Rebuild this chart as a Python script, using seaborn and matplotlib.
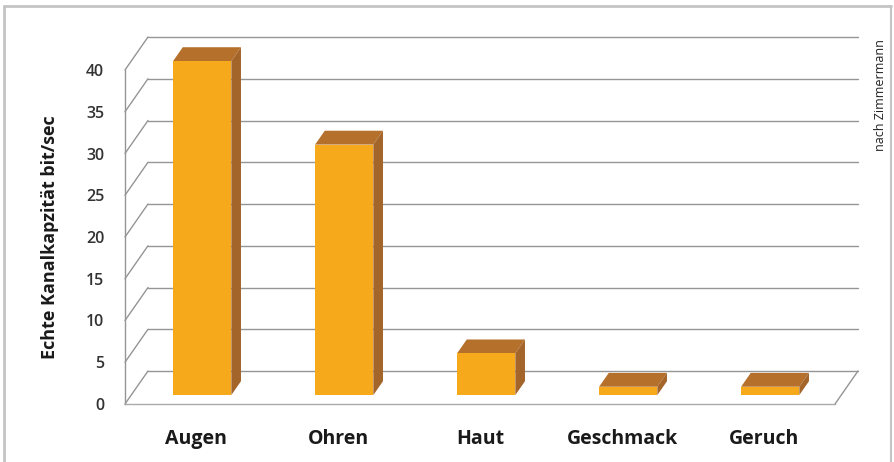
import matplotlib
matplotlib.use("Agg")
import matplotlib.pyplot as plt
import seaborn as sns
import pandas as pd
from matplotlib.patches import Polygon
from matplotlib.lines import Line2D

# ---- data ----
categories = ["Augen", "Ohren", "Haut", "Geschmack", "Geruch"]
values = [40, 30, 5, 1, 1]
yticks = [0, 5, 10, 15, 20, 25, 30, 35, 40]
ylabel = "Echte Kanalkapzität bit/sec"
note = "nach Zimmermann"

sns.set_theme(style="white")
plt.rcParams['font.family'] = ['Open Sans', 'DejaVu Sans']

W, H = 894, 462
fig = plt.figure(figsize=(W / 100, H / 100), dpi=100)
fig.patch.set_facecolor("white")

# pixel geometry of the front plane
x0px, x1px = 125, 835
y0px, y40px = 404, 70
front = [x0px / W, (H - y0px) / H, (x1px - x0px) / W, (y0px - y40px) / H]

# depth offset of the whole box in pixels
DXP, DYP = 23, 33
ppu_x = (x1px - x0px) / 5.0
ppu_y = (y0px - y40px) / 40.0
ddx = DXP / ppu_x          # in category units
ddy = DYP / ppu_y          # in value units

grid_c = "#959595"
floor_c = "#aaaaaa"

ax = fig.add_axes(front)
ax.set_xlim(-0.5, 4.5)
ax.set_ylim(0, 40)
ax.patch.set_alpha(0)
for s in ["top", "right"]:
    ax.spines[s].set_visible(False)
ax.spines["left"].set_color(grid_c)
ax.spines["bottom"].set_color(floor_c)
ax.spines["left"].set_linewidth(1)
ax.spines["bottom"].set_linewidth(1)
ax.set_yticks(yticks)
ax.set_yticklabels([str(t) for t in yticks], fontsize=11.5, fontweight="semibold", color="#333333")
ax.tick_params(axis="y", direction="out", length=4, width=1, color=grid_c, pad=11)
ax.set_xticks(range(len(categories)))
ax.set_xticklabels(categories, fontsize=14, fontweight="bold", color="#1a1a1a")
ax.tick_params(axis="x", length=0, pad=18)
ax.set_xticks([i + 0.5 for i in range(len(categories) - 1)], minor=True)
ax.tick_params(axis="x", which="minor", direction="out", length=3, width=1, color=floor_c)
ax.set_ylabel(ylabel, fontsize=13, fontweight="bold", color="#1a1a1a", labelpad=19)
ax.grid(False)

# back wall gridlines + side wall diagonals
for v in yticks:
    ax.plot([-0.5 + ddx, 4.5 + ddx], [v + ddy, v + ddy], color=grid_c, lw=1, clip_on=False, zorder=0)
    ax.plot([-0.5, -0.5 + ddx], [v, v + ddy], color=grid_c, lw=1, clip_on=False, zorder=0)
ax.plot([4.5, 4.5 + ddx], [0, ddy], color=grid_c, lw=1, clip_on=False, zorder=0)

# bars sit at a depth fraction inside the box
d0 = 0.27
dbar = 0.42
bars_pos = [front[0] + d0 * DXP / W, front[1] + d0 * DYP / H, front[2], front[3]]
ax2 = fig.add_axes(bars_pos)
df = pd.DataFrame({"cat": categories, "val": values})
sns.barplot(data=df, x="cat", y="val", ax=ax2, color="#f6a91b", width=0.41,
            saturation=1, linewidth=0, zorder=3)
ax2.set_xlim(-0.5, 4.5)
ax2.set_ylim(0, 40)
ax2.set_axis_off()
ax2.patch.set_alpha(0)

bx = dbar * ddx
by = dbar * ddy
for p in list(ax2.patches):
    x = p.get_x(); w = p.get_width(); h = p.get_height()
    top = Polygon([(x, h), (x + w, h), (x + w + bx, h + by), (x + bx, h + by)],
                  closed=True, facecolor="#b5702c", edgecolor="none", zorder=2, clip_on=False)
    side = Polygon([(x + w, 0), (x + w + bx, by), (x + w + bx, h + by), (x + w, h)],
                   closed=True, facecolor="#a4652a", edgecolor="none", zorder=2, clip_on=False)
    ax2.add_patch(top)
    ax2.add_patch(side)

fig.text(881 / W, 1 - 95 / H, note, rotation=90, ha="center", va="center",
         fontsize=9, color="#222222")

# outer frame
bc = "#c4c4c4"
fig.add_artist(Line2D([4 / W, 891 / W], [1 - 6 / H, 1 - 6 / H], color=bc, lw=2))
fig.add_artist(Line2D([4 / W, 4 / W], [0, 1 - 6 / H], color=bc, lw=2))
fig.add_artist(Line2D([891 / W, 891 / W], [0, 1 - 6 / H], color=bc, lw=1.5))

fig.savefig("out.png", dpi=100)
